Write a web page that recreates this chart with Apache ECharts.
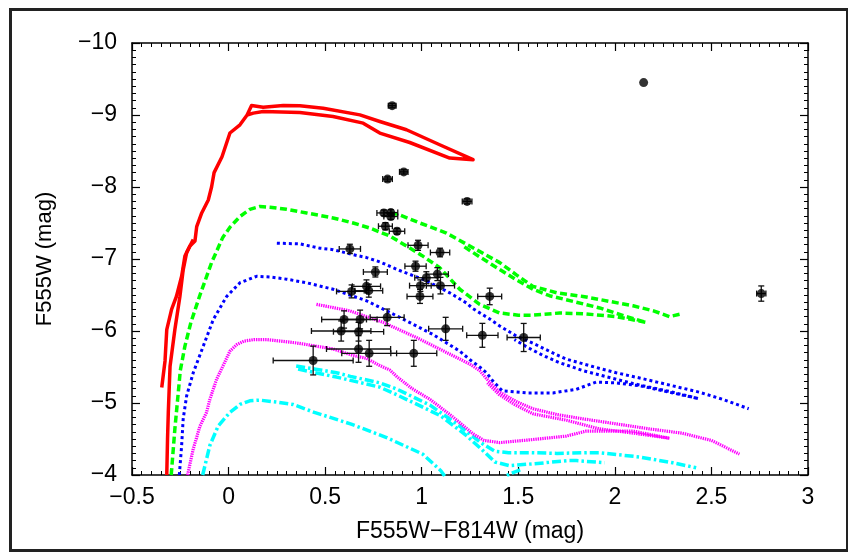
<!DOCTYPE html>
<html>
<head>
<meta charset="utf-8">
<script src="https://cdn.jsdelivr.net/npm/echarts@6/dist/echarts.min.js"></script>
<style>
html,body{margin:0;padding:0;background:#fff;}
#c{width:848px;height:552px;}
</style>
</head>
<body>
<div id="c"></div>
<script>
// ---- axis ticks ----
const xTicks = [-0.5, 0, 0.5, 1, 1.5, 2, 2.5, 3];
const yTicks = [-10, -9, -8, -7, -6, -5, -4];

// ---- observed stars ----
const starX    = [0.847, 2.149, 0.907, 0.823, 1.235, 0.804, 0.840, 0.840, 0.812, 0.872, 0.628, 0.981, 1.095, 0.760, 0.968, 1.024, 1.081, 0.993, 1.097, 0.991, 0.637, 0.714, 0.726, 1.352, 0.598, 0.681, 0.821, 0.583, 0.673, 1.124, 1.314, 1.528, 0.673, 0.728, 0.959, 0.438, 2.758];
const starY    = [-9.13, -9.45, -8.21, -8.11, -7.80, -7.64, -7.645, -7.59, -7.455, -7.385, -7.14, -7.19, -7.09, -6.82, -6.90, -6.74, -6.79, -6.63, -6.63, -6.48, -6.55, -6.62, -6.56, -6.48, -6.16, -6.16, -6.19, -6.00, -5.99, -6.03, -5.94, -5.91, -5.75, -5.69, -5.69, -5.59, -6.52];
const starXErr = [0.02, 0, 0.022, 0.025, 0.025, 0.036, 0.036, 0.036, 0.036, 0.04, 0.055, 0.052, 0.05, 0.062, 0.055, 0.06, 0.057, 0.056, 0.073, 0.067, 0.078, 0.073, 0.072, 0.062, 0.116, 0.088, 0.088, 0.154, 0.13, 0.088, 0.081, 0.086, 0.166, 0.142, 0.119, 0.207, 0.024];
const starYErr = [0.03, 0, 0.03, 0.03, 0.035, 0.04, 0.04, 0.04, 0.05, 0.04, 0.065, 0.07, 0.06, 0.07, 0.07, 0.083, 0.09, 0.08, 0.115, 0.097, 0.09, 0.09, 0.09, 0.115, 0.12, 0.13, 0.115, 0.14, 0.13, 0.16, 0.166, 0.195, 0.185, 0.18, 0.18, 0.2, 0.106];

// ---- isochrones (red solid) ----
const redA = [[-0.346,-5.215],[-0.329,-5.584],[-0.320,-6.02],[-0.295,-6.30],[-0.27,-6.48],[-0.243,-6.76],[-0.226,-7.04],[-0.2,-7.18],[-0.174,-7.25],[-0.165,-7.45],[-0.139,-7.64],[-0.105,-7.82],[-0.088,-8.0],[-0.075,-8.2],[-0.034,-8.42],[0.007,-8.75],[0.059,-8.864],[0.096,-9.0],[0.119,-9.131],[0.179,-9.109],[0.283,-9.131],[0.369,-9.127],[0.49,-9.095],[0.68,-9.002],[0.783,-8.91],[0.921,-8.795],[1.093,-8.587],[1.266,-8.379],[1.145,-8.402],[0.938,-8.618],[0.783,-8.749],[0.697,-8.887],[0.541,-8.979],[0.369,-9.034],[0.179,-9.048],[0.128,-9.026],[0.096,-9.0]];
const redB = [[-0.320,-4.0],[-0.316,-4.5],[-0.312,-4.87],[-0.303,-5.51],[-0.278,-6.02],[-0.252,-6.48],[-0.235,-6.85],[-0.217,-7.09],[-0.183,-7.27]];

// ---- green dashed ----
const greenMain = [[-0.297,-4.0],[-0.278,-4.64],[-0.262,-5.10],[-0.25,-5.45],[-0.226,-5.79],[-0.195,-6.12],[-0.148,-6.50],[-0.088,-6.95],[-0.03,-7.30],[0.01,-7.45],[0.059,-7.59],[0.11,-7.69],[0.162,-7.73],[0.214,-7.72],[0.30,-7.69],[0.404,-7.64],[0.541,-7.57],[0.645,-7.50],[0.731,-7.43],[0.835,-7.32],[0.921,-7.18],[1.0,-7.05],[1.093,-6.88],[1.197,-6.58],[1.30,-6.37],[1.404,-6.25],[1.50,-6.22],[1.576,-6.22],[1.714,-6.25],[1.835,-6.24],[2.007,-6.20],[2.162,-6.12],[2.059,-6.20],[1.921,-6.32],[1.80,-6.40],[1.662,-6.49],[1.576,-6.58],[1.49,-6.71],[1.40,-6.86],[1.30,-7.03],[1.22,-7.17]];
const greenUpper = [[0.84,-7.64],[0.878,-7.62],[0.99,-7.50],[1.128,-7.36],[1.249,-7.18],[1.33,-7.06],[1.404,-6.95],[1.49,-6.78],[1.576,-6.62],[1.70,-6.53],[1.835,-6.48],[2.094,-6.35],[2.2,-6.28],[2.283,-6.20],[2.349,-6.24]];

// ---- blue dotted ----
const blueMain = [[-0.255,-4.0],[-0.243,-4.41],[-0.235,-4.78],[-0.217,-5.10],[-0.183,-5.42],[-0.131,-5.79],[-0.079,-6.16],[-0.010,-6.48],[0.059,-6.67],[0.145,-6.76],[0.214,-6.75],[0.30,-6.72],[0.404,-6.67],[0.541,-6.58],[0.714,-6.42],[0.886,-6.19],[1.059,-5.95],[1.197,-5.72],[1.25,-5.60],[1.30,-5.50],[1.335,-5.42],[1.37,-5.30],[1.417,-5.17],[1.55,-5.14],[1.679,-5.14],[1.80,-5.19],[1.903,-5.29],[2.0,-5.28],[2.128,-5.24],[2.30,-5.14],[2.434,-5.06],[2.30,-5.15],[2.094,-5.27],[1.835,-5.45],[1.714,-5.56],[1.628,-5.66],[1.55,-5.77],[1.48,-5.88]];
const blueUpper = [[0.25,-7.22],[0.369,-7.21],[0.473,-7.15],[0.541,-7.13],[0.645,-7.06],[0.714,-7.02],[0.783,-6.96],[0.886,-6.84],[1.024,-6.70],[1.059,-6.65],[1.145,-6.53],[1.231,-6.39],[1.266,-6.31],[1.35,-6.17],[1.404,-6.07],[1.49,-5.93],[1.576,-5.83],[1.714,-5.65],[1.748,-5.61],[1.88,-5.51],[2.007,-5.42],[2.14,-5.34],[2.266,-5.26],[2.438,-5.15],[2.56,-5.05],[2.693,-4.92]];

// ---- magenta fine dotted ----
const magentaMain = [[-0.212,-4.0],[-0.183,-4.36],[-0.148,-4.68],[-0.114,-4.87],[-0.097,-5.05],[-0.062,-5.33],[-0.028,-5.52],[0.007,-5.72],[0.042,-5.81],[0.08,-5.86],[0.13,-5.88],[0.2,-5.88],[0.334,-5.84],[0.386,-5.82],[0.541,-5.75],[0.645,-5.66],[0.714,-5.62],[0.783,-5.52],[0.834,-5.46],[0.874,-5.36],[0.95,-5.20],[1.043,-5.05],[1.155,-4.82],[1.267,-4.57],[1.323,-4.48],[1.404,-4.45],[1.566,-4.49],[1.748,-4.54],[1.852,-4.61],[2.094,-4.61],[2.283,-4.51],[2.10,-4.58],[1.921,-4.64],[1.75,-4.76],[1.576,-4.85],[1.48,-4.98],[1.40,-5.12],[1.34,-5.28]];
const magentaUpper = [[0.455,-6.37],[0.628,-6.28],[0.80,-6.12],[0.972,-5.91],[1.145,-5.68],[1.249,-5.54],[1.30,-5.45],[1.335,-5.34],[1.404,-5.15],[1.49,-5.02],[1.576,-4.92],[1.70,-4.84],[1.835,-4.78],[2.18,-4.64],[2.35,-4.58],[2.50,-4.48],[2.645,-4.29]];

// ---- cyan dash-dot ----
const cyanMain = [[-0.134,-4.0],[-0.097,-4.41],[-0.054,-4.68],[0.007,-4.87],[0.059,-4.98],[0.11,-5.03],[0.162,-5.04],[0.257,-5.01],[0.334,-4.98],[0.444,-4.87],[0.631,-4.71],[0.818,-4.52],[1.005,-4.29],[1.099,-4.06],[1.12,-3.98]];
const cyanUpper = [[0.35,-5.515],[0.45,-5.47],[0.559,-5.42],[0.631,-5.37],[0.783,-5.28],[0.874,-5.19],[1.043,-4.97],[1.192,-4.69],[1.305,-4.45],[1.379,-4.33],[1.45,-4.31],[1.566,-4.31],[1.70,-4.30],[1.866,-4.31],[1.92,-4.31],[2.128,-4.25],[2.30,-4.17],[2.421,-4.10]];
const cyanUpper2 = [[0.36,-5.47],[0.559,-5.36],[0.783,-5.22],[0.874,-5.11],[1.0,-4.95],[1.099,-4.82],[1.23,-4.55],[1.305,-4.37],[1.379,-4.18],[1.454,-4.13],[1.60,-4.16],[1.754,-4.20],[1.80,-4.20],[1.947,-4.17]];
const cyanStub = [[1.51,-4.07],[1.46,-4.02],[1.44,-3.99]];

const FONT = 'Liberation Sans, Arial, Helvetica, sans-serif';
const fmt = v => (v < 0 ? '\u2212' + Math.abs(v) : String(v));

function mkX(pos, showLabel) {
  return {
    type: 'value', position: pos, min: xTicks[0], max: xTicks[xTicks.length - 1],
    interval: xTicks[1] - xTicks[0],
    name: showLabel ? 'F555W\u2212F814W (mag)' : '',
    nameLocation: 'middle', nameGap: 45,
    nameTextStyle: { fontFamily: FONT, fontSize: 23, color: '#000' },
    axisLine: { show: true, onZero: false, lineStyle: { color: '#000', width: 1.5 } },
    axisTick: { show: true, inside: true, length: 8, lineStyle: { color: '#000', width: 1.2 } },
    minorTick: { show: true, splitNumber: 10, length: 4, lineStyle: { color: '#000', width: 1 } },
    splitLine: { show: false },
    axisLabel: { show: showLabel, margin: 11, fontFamily: FONT, fontSize: 23, color: '#000', formatter: fmt }
  };
}
function mkY(pos, showLabel) {
  return {
    type: 'value', position: pos, inverse: true, min: yTicks[0], max: yTicks[yTicks.length - 1],
    interval: yTicks[1] - yTicks[0],
    name: showLabel ? 'F555W (mag)' : '',
    nameLocation: 'middle', nameGap: 76, nameRotate: 90,
    nameTextStyle: { fontFamily: FONT, fontSize: 22, color: '#000' },
    axisLine: { show: true, onZero: false, lineStyle: { color: '#000', width: 1.5 } },
    axisTick: { show: true, inside: true, length: 8, lineStyle: { color: '#000', width: 1.2 } },
    minorTick: { show: true, splitNumber: 10, length: 4, lineStyle: { color: '#000', width: 1 } },
    splitLine: { show: false },
    axisLabel: { show: showLabel, margin: 15, fontFamily: FONT, fontSize: 23, color: '#000', formatter: fmt }
  };
}

function lineSeries(data, color, dash, width) {
  return {
    type: 'line', data: data, showSymbol: false, symbol: 'none', smooth: false, clip: true,
    animation: false, z: 2,
    lineStyle: { color: color, width: width, type: dash, cap: 'butt', join: 'round' }
  };
}

const starRows = starX.map((x, i) => [x, starY[i], starXErr[i], starYErr[i]]);

const chart = echarts.init(document.getElementById('c'), null, { renderer: 'canvas' });
chart.setOption({
  animation: false,
  backgroundColor: '#fff',
  grid: { left: 132, right: 40, top: 43, bottom: 77, containLabel: false },
  xAxis: [mkX('bottom', true), mkX('top', false)],
  yAxis: [mkY('left', true), mkY('right', false)],
  graphic: [{
    type: 'rect', left: 8, top: 7, silent: true, z: -10,
    shape: { width: 837, height: 541 },
    style: { fill: 'none', stroke: '#222', lineWidth: 3 }
  }],
  series: [
    lineSeries(cyanMain, '#00ffff', [9, 3, 2.5, 3], 3.5),
    lineSeries(cyanUpper, '#00ffff', [9, 3, 2.5, 3], 3.5),
    lineSeries(cyanUpper2, '#00ffff', [9, 3, 2.5, 3], 3.5),
    lineSeries(cyanStub, '#00ffff', [9, 3, 2.5, 3], 3.5),
    lineSeries(magentaMain, '#ff00ff', [1.4, 0.9], 3.2),
    lineSeries(magentaUpper, '#ff00ff', [1.4, 0.9], 3.2),
    lineSeries(blueMain, '#0000ff', [3, 3], 3),
    lineSeries(blueUpper, '#0000ff', [3, 3], 3),
    lineSeries(greenMain, '#00ff00', [7, 3.5], 3.5),
    lineSeries(greenUpper, '#00ff00', [7, 3.5], 3.5),
    lineSeries(redA, '#ff0000', 'solid', 3.5),
    lineSeries(redB, '#ff0000', 'solid', 3.5),
    {
      type: 'custom', data: starRows, z: 5, animation: false,
      encode: { x: 0, y: 1 },
      renderItem: function (params, api) {
        const x = api.value(0), y = api.value(1), ex = api.value(2), ey = api.value(3);
        const kids = [];
        const st = { stroke: '#111', lineWidth: 1.3 };
        const cap = 3;
        if (ex > 0) {
          const l = api.coord([x - ex, y]), r = api.coord([x + ex, y]);
          kids.push({ type: 'line', shape: { x1: l[0], y1: l[1], x2: r[0], y2: r[1] }, style: st });
          kids.push({ type: 'line', shape: { x1: l[0], y1: l[1] - cap, x2: l[0], y2: l[1] + cap }, style: st });
          kids.push({ type: 'line', shape: { x1: r[0], y1: r[1] - cap, x2: r[0], y2: r[1] + cap }, style: st });
        }
        if (ey > 0) {
          const t = api.coord([x, y - ey]), b = api.coord([x, y + ey]);
          kids.push({ type: 'line', shape: { x1: t[0], y1: t[1], x2: b[0], y2: b[1] }, style: st });
          kids.push({ type: 'line', shape: { x1: t[0] - cap, y1: t[1], x2: t[0] + cap, y2: t[1] }, style: st });
          kids.push({ type: 'line', shape: { x1: b[0] - cap, y1: b[1], x2: b[0] + cap, y2: b[1] }, style: st });
        }
        return { type: 'group', children: kids };
      }
    },
    {
      type: 'scatter', data: starRows.map(r => [r[0], r[1]]), symbol: 'circle', symbolSize: 9,
      itemStyle: { color: '#000' }, z: 6, animation: false
    }
  ]
});
</script>
</body>
</html>
